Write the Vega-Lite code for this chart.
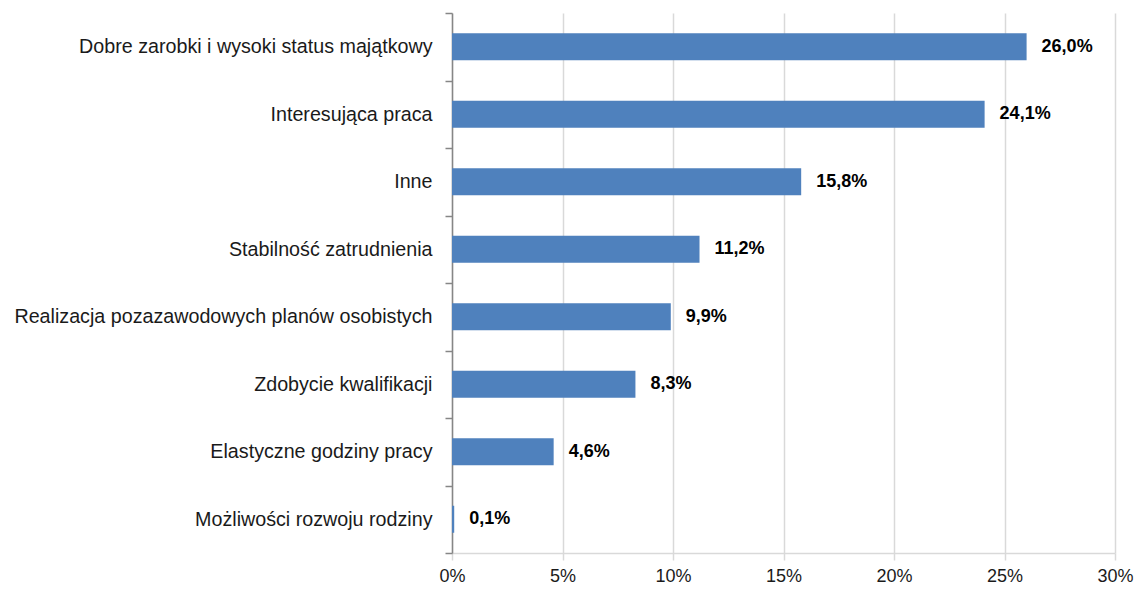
{
  "$schema": "https://vega.github.io/schema/vega-lite/v6.json",
  "autosize": "none",
  "width": 663,
  "height": 540,
  "padding": {"left": 452, "top": 13, "right": 20, "bottom": 36},
  "background": "white",
  "config": {
    "locale": {"number": {"decimal": ",", "thousands": " ", "grouping": [3], "currency": ["", " zł"]}},
    "view": {"stroke": null},
    "font": "Liberation Sans"
  },
  "data": {"values": [
    {"kategoria": "Dobre zarobki i wysoki status majątkowy", "udzial": 0.260},
    {"kategoria": "Interesująca praca", "udzial": 0.241},
    {"kategoria": "Inne", "udzial": 0.158},
    {"kategoria": "Stabilność zatrudnienia", "udzial": 0.112},
    {"kategoria": "Realizacja pozazawodowych planów osobistych", "udzial": 0.099},
    {"kategoria": "Zdobycie kwalifikacji", "udzial": 0.083},
    {"kategoria": "Elastyczne godziny pracy", "udzial": 0.046},
    {"kategoria": "Możliwości rozwoju rodziny", "udzial": 0.001}
  ]},
  "encoding": {
    "y": {
      "field": "kategoria", "type": "nominal", "sort": null,
      "scale": {"paddingInner": 0, "paddingOuter": 0},
      "axis": {
        "title": null, "tickBand": "extent", "domainColor": "#868686", "tickColor": "#868686",
        "domainWidth": 1.5, "tickWidth": 1.5, "tickSize": 7, "labelPadding": 13,
        "labelFontSize": 19.7, "labelColor": "#1a1a1a", "labelFont": "Liberation Sans", "grid": false,
        "labelLimit": 500
      }
    }
  },
  "layer": [
    {
      "mark": {"type": "bar", "color": "#4F81BD", "height": {"band": 0.4}},
      "encoding": {
        "x": {
          "field": "udzial", "type": "quantitative",
          "scale": {"domain": [0, 0.3], "nice": false},
          "axis": {
            "title": null, "format": ".0%", "values": [0, 0.05, 0.1, 0.15, 0.2, 0.25, 0.3],
            "labelFlush": false,
            "gridColor": "#d9d9d9", "gridWidth": 1.5, "domainColor": "#d9d9d9", "domainWidth": 1.5,
            "tickColor": "#d9d9d9", "tickWidth": 1.5, "tickSize": 7, "labelPadding": 7,
            "labelFontSize": 18, "labelColor": "#1a1a1a", "labelFont": "Liberation Sans"
          }
        }
      }
    },
    {
      "mark": {"type": "text", "align": "left", "baseline": "middle", "dx": 15, "fontWeight": "bold", "fontSize": 18, "color": "#000000", "font": "Liberation Sans"},
      "encoding": {
        "x": {"field": "udzial", "type": "quantitative"},
        "text": {"field": "udzial", "type": "quantitative", "format": ".1%"}
      }
    }
  ]
}
